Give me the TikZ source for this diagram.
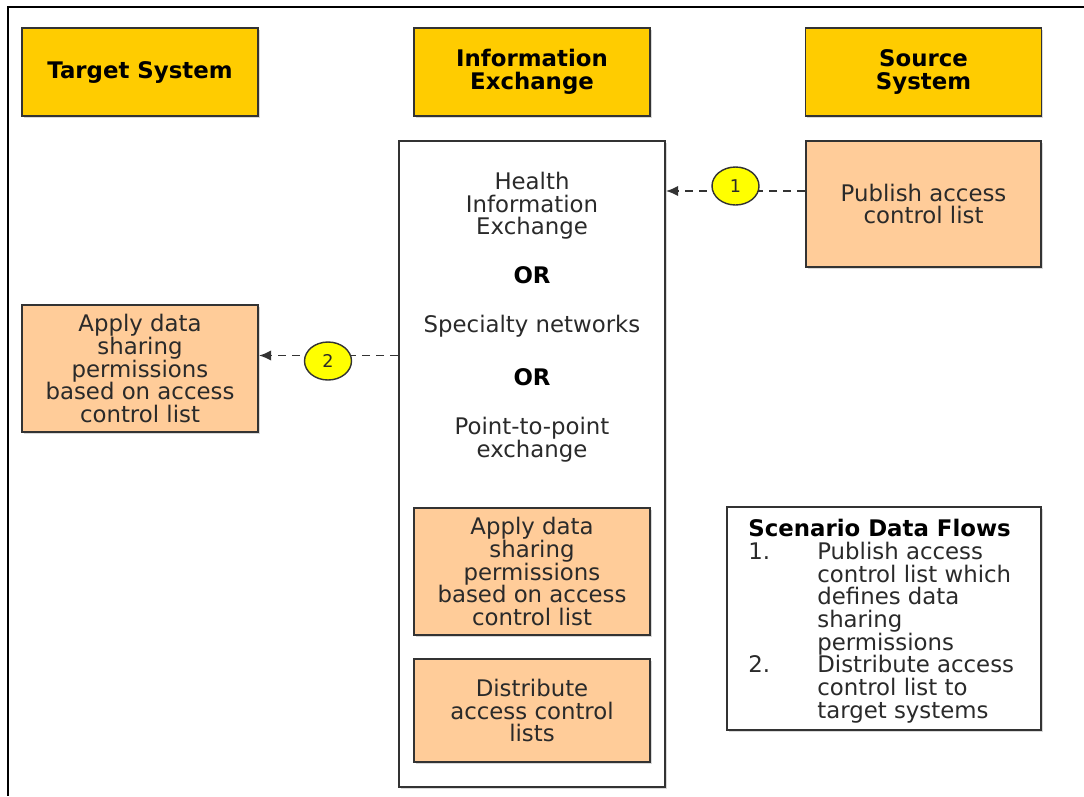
\documentclass[tikz,border=0pt]{standalone}
\usepackage{fontspec}
\setmainfont{DejaVu Sans}
\usetikzlibrary{arrows.meta,shadows,shapes.geometric}
\definecolor{hdrfill}{HTML}{FFCC00}
\definecolor{stepfill}{HTML}{FFCC99}
\definecolor{markfill}{HTML}{FFFF00}
\definecolor{edge}{HTML}{333333}
\definecolor{ink}{HTML}{2A2A2A}
\begin{document}
\begin{tikzpicture}[x=0.02cm,y=-0.02cm,
  every node/.style={font=\fontsize{13}{12.9}\selectfont, text=ink},
  boxbase/.style={draw=edge, line width=1pt, rectangle, align=center, inner sep=2pt,
    drop shadow={shadow xshift=0.9pt, shadow yshift=-0.9pt, opacity=0.3}},
  header/.style={boxbase, fill=hdrfill, minimum width=4.72cm, minimum height=1.76cm,
    font=\fontsize{13}{12.9}\selectfont\bfseries, text=black},
  stepbox/.style={boxbase, fill=stepfill, minimum width=4.72cm},
  plainbox/.style={draw=edge, line width=1pt, rectangle, fill=white,
    drop shadow={shadow xshift=0.9pt, shadow yshift=-0.9pt, opacity=0.3}},
  flowmark/.style={ellipse, draw=edge, line width=0.8pt, fill=markfill,
    minimum width=0.94cm, minimum height=0.76cm, inner sep=0pt,
    font=\fontsize{10}{10}\selectfont},
  flow/.style={draw=edge, line width=1.1pt, dash pattern=on 4.5pt off 3.5pt,
    -{Latex[length=7pt,width=6pt]}}
]
\useasboundingbox (0,0) rectangle (1084,796);

% outer frame (top and left edges)
\coordinate (frameTL) at (8,7);
\coordinate (frameTR) at (1084,7);
\coordinate (frameBL) at (8,796);
\draw[line width=1.2pt, black] (frameTR) -- (frameTL) -- (frameBL);

% column headers
\node[header] (tgth) at (140,72) {Target System};
\node[header] (ieh) at (532,72) {Information\\Exchange};
\node[header] (srch) at (923.5,72) {Source\\System};

% information exchange column
\node[plainbox, minimum width=5.32cm, minimum height=12.92cm] (ie) at (532,464) {};
\node[align=center] (hie) at (532,206) {Health\\Information\\Exchange};
\node[font=\fontsize{13}{12.9}\selectfont\bfseries, text=black] (or1) at (532,275) {OR};
\node (spec) at (532,326) {Specialty networks};
\node[font=\fontsize{13}{12.9}\selectfont\bfseries, text=black] (or2) at (532,377) {OR};
\node[align=center] (p2p) at (532,440) {Point-to-point\\exchange};
\node[stepbox, minimum height=2.54cm] (applyI) at (532,571.5)
  {Apply data\\sharing\\permissions\\based on access\\control list};
\node[stepbox, minimum height=2.06cm] (dist) at (532,710.5)
  {Distribute\\access control\\lists};

% source and target steps
\node[stepbox, minimum width=4.70cm, minimum height=2.52cm] (pub) at (923.5,204)
  {Publish access\\control list};
\node[stepbox, minimum height=2.54cm] (applyT) at (140,368.5)
  {Apply data\\sharing\\permissions\\based on access\\control list};

% data flows
\coordinate (lvl1) at (0,191);
\coordinate (lvl2) at (0,355.5);
\draw[flow] (pub.west |- lvl1) -- (ie.east |- lvl1);
\draw[flow] (ie.west |- lvl2) -- (applyT.east |- lvl2);
\node[flowmark] (m1) at (735.5,186) {1};
\node[flowmark] (m2) at (328,361) {2};

% legend
\node[plainbox, minimum width=6.28cm, minimum height=4.46cm] (scn) at (884,618.5) {};
\node[anchor=north west, inner sep=0pt, align=left] (scntxt) at (748,519) {%
  {\bfseries\color{black}Scenario Data Flows}\\
  \makebox[1.38cm][l]{1.}Publish access\\
  \hspace*{1.38cm}control list which\\
  \hspace*{1.38cm}defines data\\
  \hspace*{1.38cm}sharing\\
  \hspace*{1.38cm}permissions\\
  \makebox[1.38cm][l]{2.}Distribute access\\
  \hspace*{1.38cm}control list to\\
  \hspace*{1.38cm}target systems};
\end{tikzpicture}
\end{document}
